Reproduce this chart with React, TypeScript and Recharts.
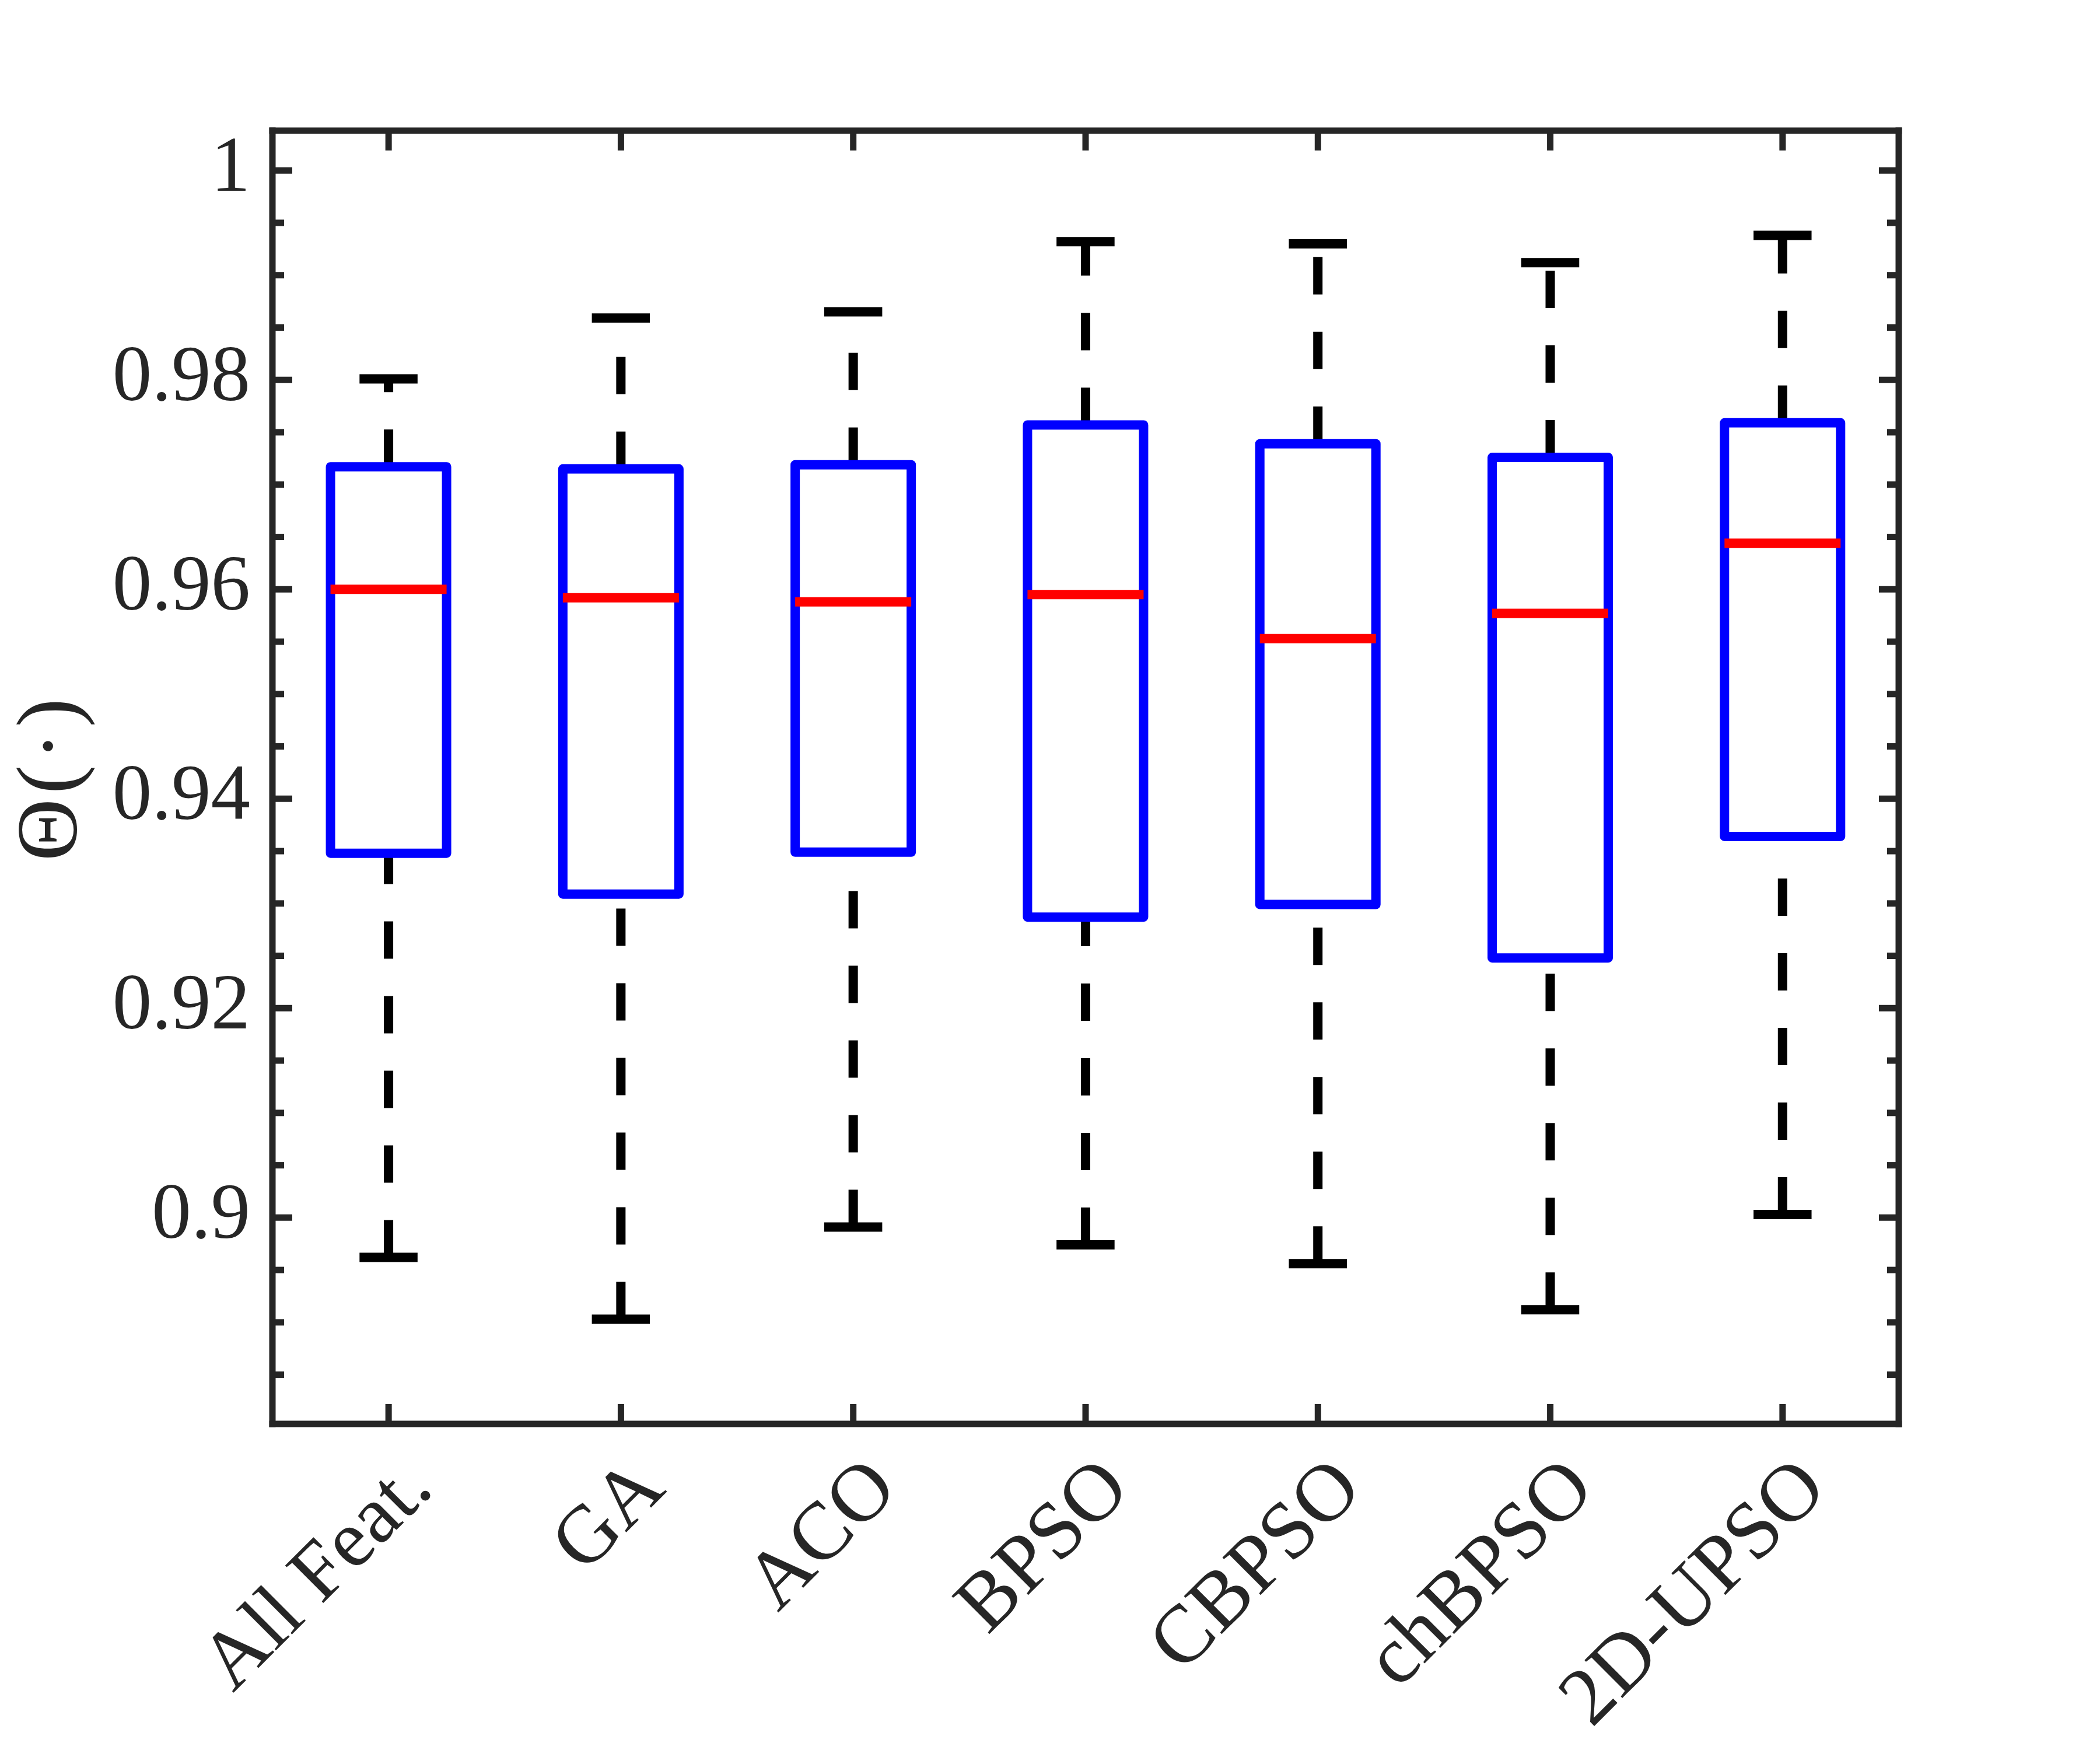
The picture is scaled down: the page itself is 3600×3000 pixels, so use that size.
import React from "react";
import { ComposedChart, Bar, XAxis, YAxis } from "recharts";

// box plot summary (whisker ends, quartiles, median)
const methods = ["All Feat.", "GA", "ACO", "BPSO", "CBPSO", "chBPSO", "2D-UPSO"];
const whiskerLow = [0.8962, 0.8903, 0.8991, 0.8974, 0.8956, 0.8912, 0.9003];
const quartile1 = [0.9348, 0.9309, 0.9349, 0.9287, 0.9299, 0.9248, 0.9364];
const medians = [0.96, 0.9592, 0.9588, 0.9595, 0.9553, 0.9577, 0.9644];
const quartile3 = [0.9717, 0.9715, 0.9719, 0.9757, 0.9739, 0.9726, 0.9759];
const whiskerHigh = [0.9801, 0.9859, 0.9865, 0.9932, 0.993, 0.9912, 0.9938];

const majorTicks = [0.9, 0.92, 0.94, 0.96, 0.98, 1];
const minorTicks = [
  0.885, 0.89, 0.895, 0.905, 0.91, 0.915, 0.925, 0.93, 0.935,
  0.945, 0.95, 0.955, 0.965, 0.97, 0.975, 0.985, 0.99, 0.995,
];
const yDomain: [number, number] = [0.8803, 1.0038];

const rows = methods.map((name, i) => ({
  name,
  lo: whiskerLow[i],
  q1: quartile1[i],
  med: medians[i],
  q3: quartile3[i],
  hi: whiskerHigh[i],
}));

const AXIS = "#262626";
const FONT = "'Liberation Serif', 'Times New Roman', serif";
const LW = 16;

const isMajor = (v: number) => majorTicks.some((m) => Math.abs(m - v) < 1e-9);

const LeftTick = (props: any) => {
  const { x, y, payload } = props;
  const major = isMajor(payload.value);
  return (
    <g>
      <line x1={x} x2={x + (major ? 34 : 20)} y1={y} y2={y} stroke={AXIS} strokeWidth={11} />
      {major && (
        <text x={x - 38} y={y + 35} textAnchor="end" fontSize={135} fill={AXIS} fontFamily={FONT}>
          {String(payload.value)}
        </text>
      )}
    </g>
  );
};

const RightTick = (props: any) => {
  const { x, y, payload } = props;
  const major = isMajor(payload.value);
  return <line x1={x} x2={x - (major ? 34 : 20)} y1={y} y2={y} stroke={AXIS} strokeWidth={11} />;
};

const BottomTick = (props: any) => {
  const { x, y, payload } = props;
  return (
    <g>
      <line x1={x} x2={x} y1={y} y2={y - 34} stroke={AXIS} strokeWidth={11} />
      <g transform={`translate(${x},${y}) rotate(-45)`}>
        <text x={-25} y={138} textAnchor="end" fontSize={140} fill={AXIS} fontFamily={FONT}>
          {payload.value}
        </text>
      </g>
    </g>
  );
};

const TopTick = (props: any) => {
  const { x, y } = props;
  return <line x1={x} x2={x} y1={y} y2={y + 34} stroke={AXIS} strokeWidth={11} />;
};

const BoxShape = (props: any) => {
  const { x, y, width, height, payload } = props;
  if (!payload) return null;
  const top = Math.min(y, y + height);
  const bottom = Math.max(y, y + height);
  const span = payload.hi - payload.lo;
  const toY = (v: number) => top + ((payload.hi - v) / span) * (bottom - top);
  const cx = x + width / 2;
  const cap = width / 4;
  const yLo = toY(payload.lo);
  const yQ1 = toY(payload.q1);
  const yMed = toY(payload.med);
  const yQ3 = toY(payload.q3);
  const yHi = toY(payload.hi);
  return (
    <g>
      {/* whiskers are drawn bottom-up so the dash phase starts at the lower end */}
      <line x1={cx} x2={cx} y1={yLo} y2={yQ1} stroke="#000" strokeWidth={LW} strokeDasharray="64 64" />
      <line x1={cx} x2={cx} y1={yQ3} y2={yHi} stroke="#000" strokeWidth={LW} strokeDasharray="64 64" />
      <line x1={cx - cap} x2={cx + cap} y1={yLo} y2={yLo} stroke="#000" strokeWidth={LW} />
      <line x1={cx - cap} x2={cx + cap} y1={yHi} y2={yHi} stroke="#000" strokeWidth={LW} />
      <rect
        x={x}
        y={yQ3}
        width={width}
        height={yQ1 - yQ3}
        fill="none"
        stroke="#0000ff"
        strokeWidth={LW}
        strokeLinejoin="round"
      />
      <line x1={x} x2={x + width} y1={yMed} y2={yMed} stroke="#ff0000" strokeWidth={LW} />
    </g>
  );
};

const YLabel = (props: any) => {
  const vb = props.viewBox || { x: 466, y: 224, height: 2217 };
  return (
    <text
      transform={`translate(${vb.x - 335},${vb.y + vb.height / 2}) rotate(-90)`}
      textAnchor="middle"
      fontSize={148}
      letterSpacing={8}
      fill={AXIS}
      fontFamily={FONT}
    >
      Θ(·)
    </text>
  );
};

const axisLine = { stroke: AXIS, strokeWidth: 11, strokeLinecap: "square" as const };

export default function App() {
  return (
    <div style={{ position: "absolute", left: 0, top: 0, width: 3600, height: 3000, background: "#fff" }}>
      <ComposedChart
        width={3600}
        height={3000}
        data={rows}
        margin={{ top: 223, right: 344, bottom: 558, left: 466 }}
        barCategoryGap="25%"
      >
        <XAxis
          xAxisId="bottom"
          dataKey="name"
          height={1}
          tickSize={0}
          tickMargin={0}
          tickLine={false}
          interval={0}
          axisLine={axisLine}
          tick={<BottomTick />}
        />
        <XAxis
          xAxisId="top"
          orientation="top"
          dataKey="name"
          height={1}
          tickSize={0}
          tickMargin={0}
          tickLine={false}
          interval={0}
          axisLine={axisLine}
          tick={<TopTick />}
        />
        <YAxis
          yAxisId="left"
          type="number"
          width={1}
          domain={yDomain}
          allowDataOverflow
          ticks={[...majorTicks, ...minorTicks]}
          tickSize={0}
          tickMargin={0}
          tickLine={false}
          interval={0}
          axisLine={axisLine}
          tick={<LeftTick />}
          label={{ content: <YLabel /> }}
        />
        <YAxis
          yAxisId="right"
          orientation="right"
          type="number"
          width={1}
          domain={yDomain}
          allowDataOverflow
          ticks={[...majorTicks, ...minorTicks]}
          tickSize={0}
          tickMargin={0}
          tickLine={false}
          interval={0}
          axisLine={axisLine}
          tick={<RightTick />}
        />
        <Bar
          xAxisId="bottom"
          yAxisId="left"
          dataKey={(d: any) => [d.lo, d.hi]}
          shape={(p: any) => <BoxShape {...p} />}
          isAnimationActive={false}
        />
      </ComposedChart>
    </div>
  );
}
